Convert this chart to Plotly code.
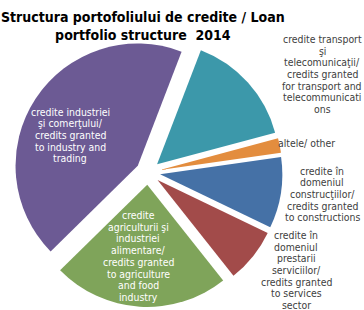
import plotly.graph_objects as go

# Data (shares of loan portfolio, %)
categories = [
    "credite transport şi telecomunicaţii/ credits granted for transport and telecommunications",
    "altele/ other",
    "credite în domeniul construcţiilor/ credits granted to constructions",
    "credite în domeniul prestarii serviciilor/ credits granted to services sector",
    "credite agriculturii şi industriei alimentare/ credits granted to agriculture and food industry",
    "credite industriei şi comerţului/ credits granted to industry and trading",
]
values = [15.0, 1.9, 9.4, 7.2, 23.3, 43.2]
colors = ["#3C98AA", "#E38D3E", "#4571A6", "#A24B4A", "#7FA45A", "#6C5A94"]

# Wrapped label texts as displayed
label_lines = [
    ["credite transport", "şi", "telecomunicaţii/", "credits granted", "for transport and", "telecommunicati", "ons"],
    ["altele/ other"],
    ["credite în", "domeniul", "construcţiilor/", "credits granted", "to constructions"],
    ["credite în", "domeniul", "prestarii", "serviciilor/", "credits granted", "to services", "sector"],
    ["credite", "agriculturii şi", "industriei", "alimentare/", "credits granted", "to agriculture", "and food", "industry"],
    ["credite industriei", "şi comerţului/", "credits granted", "to industry and", "trading"],
]
label_pos = [(322, 74), (306, 143), (322, 194), (296, 270), (138, 256), (70, 135)]
label_color = ["#404040", "#404040", "#404040", "#404040", "white", "white"]

W, H = 364, 310
FONT = "DejaVu Sans Condensed, DejaVu Sans, Verdana, sans-serif"
LINE = 11.7

fig = go.Figure(
    go.Pie(
        labels=categories,
        values=values,
        sort=False,
        direction="clockwise",
        rotation=21,
        pull=[0.1] * len(values),
        marker=dict(colors=colors, line=dict(width=0)),
        textinfo="none",
        hoverinfo="label+percent",
        domain=dict(x=[10 / W, 286 / W], y=[0.01, 1 - 38 / H]),
        showlegend=False,
    )
)

annotations = [
    dict(
        text="<b>Structura portofoliului de credite / Loan<br>portfolio structure  2014</b>",
        x=143 / W, y=1 - 26.5 / H, xref="paper", yref="paper",
        showarrow=False, xanchor="center", yanchor="middle",
        font=dict(family=FONT, size=14.0, color="black"),
    )
]
for lines, (px, py), c in zip(label_lines, label_pos, label_color):
    n = len(lines)
    for i, ln in enumerate(lines):
        yy = py + (i - (n - 1) / 2) * LINE
        annotations.append(
            dict(
                text=ln, x=px / W, y=1 - yy / H, xref="paper", yref="paper",
                showarrow=False, xanchor="center", yanchor="middle", align="center",
                font=dict(family=FONT, size=10.4, color=c),
            )
        )

fig.update_layout(
    width=W, height=H,
    margin=dict(l=0, r=0, t=0, b=0),
    paper_bgcolor="white", plot_bgcolor="white",
    annotations=annotations,
)

fig.write_html(
    "out.html",
    config={"displayModeBar": False},
    post_script="document.body.style.margin='0px';document.body.style.overflow='hidden';",
)
